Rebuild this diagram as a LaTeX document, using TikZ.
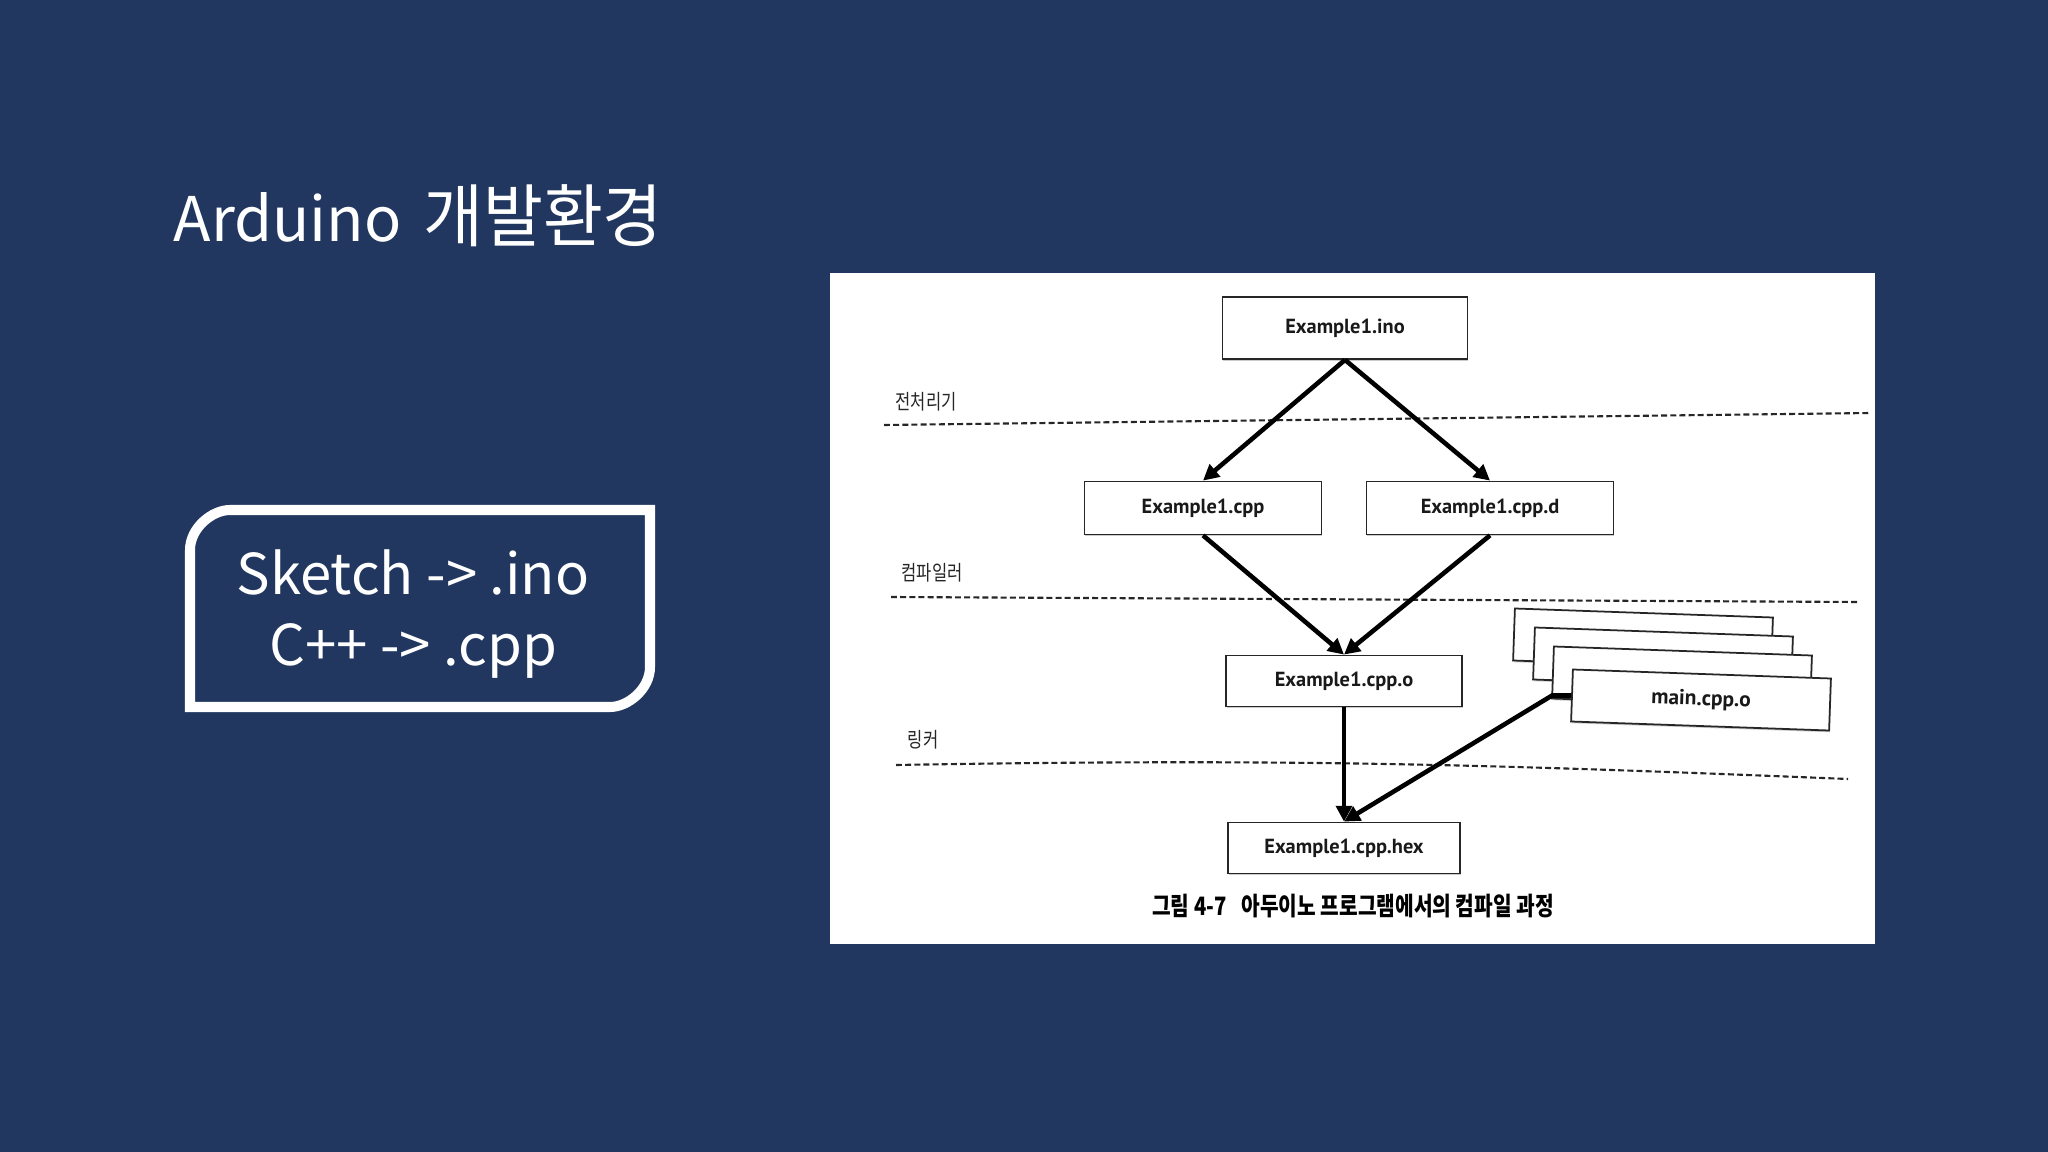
\documentclass[tikz,border=0pt]{standalone}
\usepackage{fontspec}
\usepackage{tikz}
\usetikzlibrary{arrows.meta, positioning, shadows}
\newfontfamily\kofont{Noto Sans CJK KR}
\newfontfamily\kocond[FakeStretch=0.8]{Noto Sans CJK KR}
\newfontfamily\kotitle[FakeStretch=0.95]{Noto Sans CJK KR}
\newfontfamily\figfont{PT Sans}
\definecolor{slidebg}{HTML}{21375F}

\begin{document}
\begin{tikzpicture}[
    x=0.01cm, y=-0.01cm,
    file/.style={rectangle, draw=black!85, line width=0.5pt, fill=white, minimum height=0.53cm, inner sep=0pt, font=\figfont\bfseries\fontsize{5.8}{7}\selectfont, text=black!90, drop shadow={shadow xshift=0.2pt, shadow yshift=-0.5pt, fill=black!40}},
    objfile/.style={file, minimum width=2.58cm, minimum height=0.52cm, rotate=-2},
    stage/.style={font=\kocond\fontsize{5.9}{6.5}\selectfont, text=black!85},
    divider/.style={dash pattern=on 1.7pt off 0.9pt, line width=0.6pt, black!85},
    arrow/.style={-{Triangle[length=4.5pt, width=4.5pt]}, line width=1.3pt}
]
\useasboundingbox (0,0) rectangle (2048,1152);
\fill[slidebg] (0,0) rectangle (2048,1152);

% title and note box
\node[anchor=base west, text=white, inner sep=0pt, font=\kofont\fontsize{17.5}{22}\selectfont] (title) at (173,242) {Arduino\hspace{0.35em}{\kotitle\fontsize{19.5}{22}\selectfont 개발환경}};
\draw[white, line width=2.85pt] (190,707) -- (190,550) .. controls (190,528) and (212,510) .. (230,510) -- (650,510) -- (650,667) .. controls (650,689) and (628,707) .. (610,707) -- cycle;
\node[text=white, align=center, font=\kofont\fontsize{16}{20.3}\selectfont] (note) at (413,614) {Sketch -> .ino\\C++ -> .cpp};

% figure panel
\fill[white] (830,273) rectangle (1875,944);

\draw[divider] (884,425) -- (1871,413);
\draw[divider] (891,597) -- (1858,602);
\draw[divider] (896,765) .. controls (1300,758) and (1500,765) .. (1848,779);
\node[stage] (pre) at (926,402) {전처리기};
\node[stage] (comp) at (932,573) {컴파일러};
\node[stage] (link) at (923,740) {링커};

\node[file, minimum width=2.45cm, minimum height=0.62cm] (ino) at (1345,328) {Example1.ino};
\node[file, minimum width=2.37cm] (cpp) at (1203,508) {Example1.cpp};
\node[file, minimum width=2.47cm] (cppd) at (1490,508) {Example1.cpp.d};
\node[file, minimum width=2.36cm, minimum height=0.51cm] (cppo) at (1344,681) {Example1.cpp.o};
\node[file, minimum width=2.32cm, minimum height=0.51cm] (hex) at (1344,848) {Example1.cpp.hex};

% object files stack
\node[objfile] (obj1) at (1643,639) {};
\node[objfile] (obj2) at (1663,658) {};
\node[objfile] (obj3) at (1682,677) {};
\node[objfile, font=\figfont\bfseries\fontsize{6.1}{7}\selectfont] (main) at (1701,700) {main.cpp.o};

\draw[arrow] (ino.south) -- (cpp.north);
\draw[arrow] (ino.south) -- (cppd.north);
\draw[arrow] (cpp.south) -- (cppo.north);
\draw[arrow] (cppd.south) -- (cppo.north);
\draw[arrow] (cppo.south) -- (hex.north);
\draw[arrow] (main.west) -- ++(-19,0) -- (hex.north);

\node[font=\kocond\bfseries\fontsize{7.2}{8}\selectfont] (caption) at (1353,906) {그림 4-7\hspace{0.6em}아두이노 프로그램에서의 컴파일 과정};

\end{tikzpicture}
\end{document}
